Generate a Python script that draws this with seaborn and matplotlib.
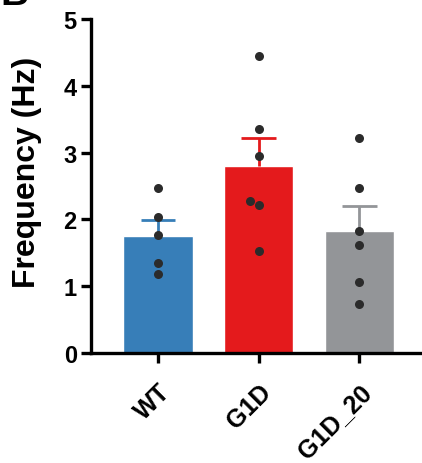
import numpy as np
import pandas as pd
import matplotlib
matplotlib.use("Agg")
import matplotlib.pyplot as plt
import seaborn as sns

# data
groups = ["WT", "G1D", "G1D_20"]
wt_vals = [2.47, 2.03, 1.76, 1.35, 1.18]
g1d_vals = [4.45, 3.35, 2.95, 2.28, 2.22, 1.52]
g1d20_vals = [3.22, 2.47, 1.83, 1.62, 1.07, 0.74]
bar_colors = ["#377eb8", "#e41a1c", "#939598"]

df = pd.DataFrame({
    "group": ["WT"] * len(wt_vals) + ["G1D"] * len(g1d_vals) + ["G1D_20"] * len(g1d20_vals),
    "freq": wt_vals + g1d_vals + g1d20_vals,
})

sns.set_style("ticks")
plt.rcParams["font.family"] = ["Liberation Sans", "DejaVu Sans"]
plt.rcParams["font.weight"] = "bold"
plt.rcParams["text.color"] = "black"
plt.rcParams["axes.labelcolor"] = "black"
plt.rcParams["xtick.color"] = "black"
plt.rcParams["ytick.color"] = "black"
plt.rcParams["axes.edgecolor"] = "black"

fig = plt.figure(figsize=(4.22, 4.64), dpi=100)
ax = fig.add_axes([90.7 / 422, 1 - 354 / 464, 1 - 90.7 / 422, (354 - 20) / 464])

sns.barplot(data=df, x="group", y="freq", order=groups, hue="group",
            palette=bar_colors, errorbar=None, width=0.69, saturation=1,
            legend=False, ax=ax, zorder=1)

# SEM bars, upward only, in the bar colour
stats = df.groupby("group")["freq"].agg(["mean", "sem"]).reindex(groups)
cap = 0.17
for i, g in enumerate(groups):
    m = stats.loc[g, "mean"]
    top = m + stats.loc[g, "sem"]
    ax.vlines(i, m, top, color=bar_colors[i], lw=2, zorder=2)
    ax.hlines(top, i - cap, i + cap, color=bar_colors[i], lw=2, zorder=2)

sns.swarmplot(data=df, x="group", y="freq", order=groups, color="#2b2b2b",
              size=6.5, ax=ax, zorder=3)

ax.set_xlim(-0.665, 2.62)
ax.set_ylim(0, 5)
ax.set_yticks([0, 1, 2, 3, 4, 5])
ax.set_ylabel("Frequency (Hz)", fontsize=23, fontweight="bold")
ax.yaxis.set_label_coords(-0.147, 0.545)
ax.set_xlabel("")
for s in ["top", "right"]:
    ax.spines[s].set_visible(False)
for s in ["left", "bottom"]:
    ax.spines[s].set_linewidth(2.4)
ax.tick_params(axis="both", width=2.4, length=7, labelsize=17)
ax.tick_params(axis="y", pad=3)
ax.tick_params(axis="x", pad=12)
ax.set_xticks(range(len(groups)))
ax.set_xticklabels(groups, rotation=45, ha="right", rotation_mode="anchor",
                   fontweight="bold", fontsize=18)
for lab in ax.get_yticklabels():
    lab.set_fontweight("bold")

fig.text(0.0, 1.01, "B", fontsize=28, fontweight="bold", va="center", ha="left")

fig.savefig("out.png", dpi=100)
